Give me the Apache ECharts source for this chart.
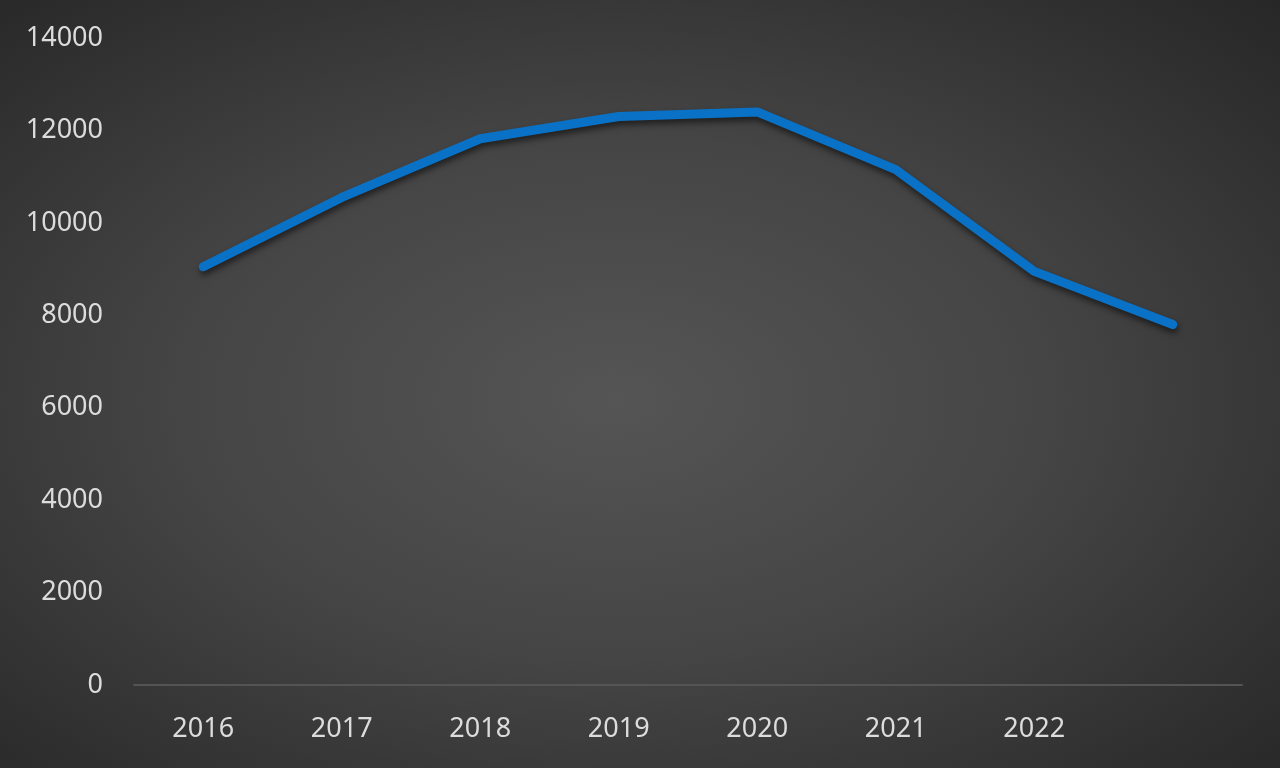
<!DOCTYPE html>
<html>
<head>
<meta charset="utf-8">
<script src="https://cdn.jsdelivr.net/npm/echarts@6/dist/echarts.min.js"></script>
<style>
html,body{margin:0;padding:0;width:1280px;height:768px;overflow:hidden;}
#chart{width:1280px;height:768px;background:radial-gradient(ellipse 75% 75% at 48% 52%, #555555 0%, #454545 45%, #2e2e2e 85%, #262626 100%);}
</style>
</head>
<body>
<div id="chart"></div>
<script>
const categories = ['2016','2017','2018','2019','2020','2021','2022',''];
const values = [9050, 10550, 11820, 12300, 12400, 11150, 8950, 7800];
const yTicks = { min: 0, max: 14000, interval: 2000 };

const chart = echarts.init(document.getElementById('chart'));
chart.setOption({
  backgroundColor: 'transparent',
  animation: false,
  grid: { left: 134, right: 38, top: 38, bottom: 83, containLabel: false },
  xAxis: {
    type: 'category',
    data: categories,
    boundaryGap: true,
    axisLine: { show: true, lineStyle: { color: '#545454', width: 2 } },
    axisTick: { show: false },
    axisLabel: { color: '#dcdcdc', fontSize: 27, fontFamily: 'Noto Sans', margin: 31 },
    splitLine: { show: false }
  },
  yAxis: {
    type: 'value',
    min: yTicks.min, max: yTicks.max, interval: yTicks.interval,
    axisLine: { show: false },
    axisTick: { show: false },
    splitLine: { show: false },
    axisLabel: { color: '#dcdcdc', fontSize: 27, fontFamily: 'Noto Sans', margin: 31,
      formatter: v => String(v) }
  },
  series: [{
    type: 'line',
    data: values,
    symbol: 'none',
    lineStyle: {
      color: '#0a72c6', width: 9, cap: 'round', join: 'round',
      shadowColor: 'rgba(0,0,0,0.55)', shadowBlur: 6, shadowOffsetX: 1, shadowOffsetY: 4
    }
  }]
});
</script>
</body>
</html>
